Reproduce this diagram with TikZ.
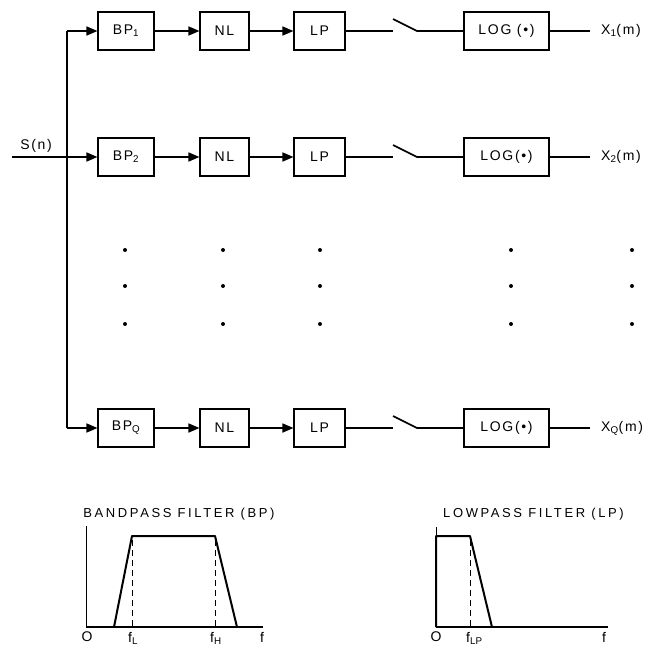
\documentclass[tikz,border=0pt]{standalone}
\usepackage{fontspec}
\setmainfont{Liberation Sans}
\newfontfamily\spacedfont[LetterSpace=12]{Liberation Sans}
\newfontfamily\widefont[LetterSpace=20]{Liberation Sans}
\usetikzlibrary{arrows.meta}
\begin{document}
\begin{tikzpicture}[x=1pt,y=-1pt,
  blk/.style={draw, line width=1.1pt, minimum height=38pt, inner sep=0pt,
              font=\spacedfont\fontsize{14}{16}\selectfont},
  lbl/.style={inner sep=0pt, font=\spacedfont\fontsize{14}{16}\selectfont},
  ttl/.style={inner sep=0pt, font=\widefont\fontsize{13}{15}\selectfont},
  axl/.style={inner sep=0pt, font=\fontsize{14}{16}\selectfont},
  ln/.style={line width=1.6pt},
  arr/.style={ln, -{Triangle[length=11pt,width=9pt]}},
  dotm/.style={circle, fill, inner sep=0pt, minimum size=4pt},
  resp/.style={line width=2pt, line join=round},
  axis/.style={line width=0.8pt},
  base/.style={line width=1.5pt},
  dsh/.style={line width=0.8pt, dash pattern=on 6pt off 4pt}]
\useasboundingbox (0,0) rectangle (664,646);

% input bus
\coordinate (bt) at (67,31);
\coordinate (bb) at (67,428);
\coordinate (in) at (12,157);
\node[lbl] (S) at (36,146) {S(n)};

\foreach \r/\y/\s/\xl in {1/31/1/{LOG (•)}, 2/157/2/{LOG(•)}, Q/428/Q/{LOG(•)}}{
  \node[blk, minimum width=56pt] (BP\r) at (126,\y) {BP\textsubscript{\s}};
  \node[blk, minimum width=49pt] (NL\r) at (224.5,\y) {NL};
  \node[blk, minimum width=51pt] (LP\r) at (319.5,\y) {LP};
  \node[blk, minimum width=85pt] (LOG\r) at (506.5,\y) {\xl};
  \coordinate (sa\r) at (393,\y);
  \coordinate (sb\r) at (417,\y);
  \coordinate (st\r) at (393,\y-12);
  \coordinate (oe\r) at (590,\y);
  \node[lbl, anchor=west] (X\r) at (601,\y) {X\textsubscript{\s}(m)};
  \draw[arr] (BP\r) -- (NL\r);
  \draw[arr] (NL\r) -- (LP\r);
  \draw[ln] (LP\r) -- (sa\r);
  \draw[ln] (st\r) -- (sb\r) -- (LOG\r);
  \draw[ln] (LOG\r) -- (oe\r);
}

\draw[ln] (bt) -- (bb);
\draw[arr] (bt) -- (BP1);
\draw[arr] (bb) -- (BPQ);
\draw[arr] (in) -- (BP2);

% dots
\foreach \x in {125,223,320,511,632}{
  \foreach \yy in {250,286,324}{
    \node[dotm] at (\x,\yy) {};
  }
}

% bandpass response
\node[ttl] (tbp) at (179,514) {BANDPASS FILTER (BP)};
\draw[axis] (86,526) -- (86,627);
\draw[base] (86,627) -- (263,627);
\draw[resp] (114,627) -- (132,536) -- (215,536) -- (237,627);
\draw[dsh] (132,540) -- (132,627);
\draw[dsh] (215,540) -- (215,627);
\node[axl, anchor=north] at (87,632) {O};
\node[axl, anchor=north west] at (128,632) {f\textsubscript{L}};
\node[axl, anchor=north west] at (210,632) {f\textsubscript{H}};
\node[axl, anchor=north] at (262,632) {f};

% lowpass response
\node[ttl] (tlp) at (533.5,514) {LOWPASS FILTER (LP)};
\draw[axis] (436,527) -- (436,536);
\draw[base] (436,627) -- (608,627);
\draw[resp] (436,627) -- (436,536) -- (470,536) -- (492,627);
\draw[dsh] (470,540) -- (470,627);
\node[axl, anchor=north] at (436,632) {O};
\node[axl, anchor=north west] at (466,632) {f\textsubscript{LP}};
\node[axl, anchor=north] at (604,632) {f};
\end{tikzpicture}
\end{document}
